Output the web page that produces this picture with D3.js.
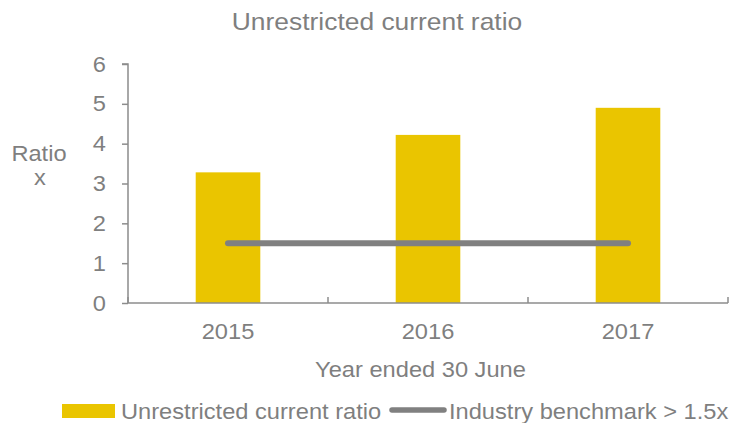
<!DOCTYPE html>
<html><head><meta charset="utf-8">
<script src="https://cdn.jsdelivr.net/npm/d3@7"></script>
<style>
body{margin:0;background:#fff;}
text{font-family:"Liberation Sans",Arial,sans-serif;fill:#7f7f7f;}
</style></head>
<body><svg id="c" width="741" height="423"></svg>
<script>
const years = ["2015","2016","2017"];
const ratios = [3.28, 4.22, 4.90];
const benchmark = [1.5, 1.5, 1.5];
const yTicks = [0,1,2,3,4,5,6];
const title = "Unrestricted current ratio";
const xTitle = "Year ended 30 June";
const yTitle = ["Ratio","x"];
const legendLabels = ["Unrestricted current ratio","Industry benchmark > 1.5x"];

const barColor = "#EAC500", lineColor = "#808080", axisColor = "#8c8c8c";
const SX = 1.1; // horizontal text stretch seen in the reference
const svg = d3.select("#c");
const L=128, R=728, T=64, B=303;
const x = d3.scaleBand().domain(years).range([L,R]).paddingInner(0.677).paddingOuter(0.3385);
const xc = d3.scalePoint().domain(years).range([L,R]).padding(0.5);
const y = d3.scaleLinear().domain([0,6]).range([B,T]);

function label(parent, px, py, str, size, anchor){
  return parent.append("text")
    .attr("transform",`translate(${px},${py}) scale(${SX},1)`)
    .attr("text-anchor",anchor||"start").style("font-size",size+"px").text(str);
}

label(svg, 377, 30, title, 24, "middle");

// bars
svg.selectAll("rect.bar").data(years).join("rect").attr("class","bar")
  .attr("x",d=>x(d)).attr("width",x.bandwidth())
  .attr("y",(d,i)=>y(ratios[i])).attr("height",(d,i)=>B-y(ratios[i]))
  .attr("fill",barColor);

// y axis
const ya = svg.append("g").attr("transform",`translate(${L},0)`)
  .call(d3.axisLeft(y).tickValues(yTicks).tickSize(6).tickFormat(""));
ya.select(".domain").attr("stroke",axisColor).attr("stroke-width",1.5).attr("d",`M-6,${T}H0V${B}`);
ya.selectAll(".tick line").attr("stroke",axisColor).attr("stroke-width",1.5);
ya.selectAll(".tick text").remove();
yTicks.forEach(v=>label(svg, L-22, y(v)+7.5, d3.format("d")(v), 21.5, "end"));

// x axis
const xa = svg.append("g").attr("transform",`translate(0,${B})`);
xa.append("line").attr("x1",L).attr("x2",R).attr("y1",0).attr("y2",0).attr("stroke",axisColor).attr("stroke-width",1.5);
const bounds = [L, ...years.slice(1).map((d,i)=>(xc(d)+xc(years[i]))/2), R];
xa.selectAll("line.t").data(bounds).join("line").attr("class","t")
  .attr("x1",d=>d).attr("x2",d=>d).attr("y1",0).attr("y2",-6).attr("stroke",axisColor).attr("stroke-width",1.5);
years.forEach(d=>label(svg, xc(d), B+36, d, 21.5, "middle"));

// benchmark line
svg.append("path").datum(benchmark)
  .attr("d",d3.line().x((d,i)=>xc(years[i])).y(d=>y(d)))
  .attr("fill","none").attr("stroke",lineColor).attr("stroke-width",6).attr("stroke-linecap","round");

// axis titles
label(svg, 420.5, 377, xTitle, 21.5, "middle");
label(svg, 39, 161, yTitle[0], 21.5, "middle");
label(svg, 40, 185, yTitle[1], 21.5, "middle");

// legend
svg.append("rect").attr("x",62).attr("y",404).attr("width",53).attr("height",14).attr("fill",barColor);
label(svg, 121, 419, legendLabels[0], 21.5, "start");
svg.append("line").attr("x1",392).attr("x2",444).attr("y1",410).attr("y2",410).attr("stroke",lineColor).attr("stroke-width",5.5).attr("stroke-linecap","round");
label(svg, 449, 419, legendLabels[1], 21.5, "start");
</script></body></html>
